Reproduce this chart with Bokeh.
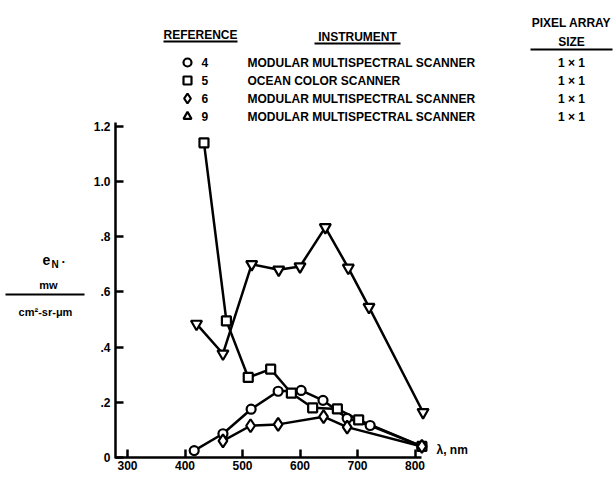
from bokeh.plotting import figure
from bokeh.models import LinearAxis, FixedTicker, Range1d
from bokeh.core.properties import value
from bokeh.embed import file_html
from bokeh.resources import INLINE

# ---------------- data ----------------
ref4_wl = [416, 466, 515, 562, 602, 640, 682, 722, 812]
ref4_val = [0.025, 0.086, 0.175, 0.240, 0.243, 0.207, 0.142, 0.116, 0.040]

ref5_wl = [433, 472, 510, 549, 585, 622, 665, 702, 812]
ref5_val = [1.14, 0.495, 0.290, 0.320, 0.233, 0.180, 0.176, 0.136, 0.040]

ref6_wl = [466, 514, 562, 641, 682, 812]
ref6_val = [0.060, 0.115, 0.120, 0.148, 0.110, 0.040]

ref9_wl = [420, 466, 516, 563, 600, 644, 684, 720, 814]
ref9_val = [0.484, 0.376, 0.700, 0.680, 0.692, 0.834, 0.687, 0.545, 0.164]

x_ticks = [300, 400, 500, 600, 700, 800]
y_ticks = [0, 0.2, 0.4, 0.6, 0.8, 1.0, 1.2]
y_tick_labels = ["0", ".2", ".4", ".6", ".8", "1.0", "1.2"]

legend_refs = ["4", "5", "6", "9"]
legend_instruments = ["MODULAR MULTISPECTRAL SCANNER", "OCEAN COLOR SCANNER",
                      "MODULAR MULTISPECTRAL SCANNER", "MODULAR MULTISPECTRAL SCANNER"]
legend_sizes = ["1 × 1", "1 × 1", "1 × 1", "1 × 1"]
legend_markers = ["circle", "square", "diamond", "triangle"]

# ---------------- layout (picture pixels -> data) ----------------
W, H = 614, 477
ORIGIN = 0
X_REF_PX, X_REF_NM, PX_PER_NM = 127.0, 300.0, 0.575
Y0_PX, PX_PER_UNIT = 457.0, 276.0


def X(px):
    return X_REF_NM + (px - X_REF_PX) / PX_PER_NM


def Y(py):
    return (Y0_PX - py) / PX_PER_UNIT


FONT_NAME = "Liberation Sans"
FONT = value(FONT_NAME)

p = figure(width=W, height=H, output_backend="svg", toolbar_location=None,
           x_axis_location=None, y_axis_location=None, min_border=0,
           x_range=Range1d(X(ORIGIN), X(ORIGIN + W)),
           y_range=Range1d(Y(ORIGIN + H), Y(ORIGIN)))
p.grid.visible = False
p.outline_line_color = None
p.background_fill_color = "white"
p.border_fill_color = "white"

# axes
xax = LinearAxis(ticker=FixedTicker(ticks=x_ticks))
xax.fixed_location = 0
xax.bounds = (X(115), X(421))
xax.major_tick_in = 8
xax.major_tick_out = 0
xax.minor_tick_in = 0
xax.minor_tick_out = 0
xax.axis_line_width = 2.5
xax.major_tick_line_width = 2.5
xax.major_label_text_font = FONT_NAME
xax.major_label_text_font_style = "bold"
xax.major_label_text_font_size = "12px"
xax.major_label_standoff = 3
xax.major_label_text_color = "black"
p.add_layout(xax, "below")

yax = LinearAxis(ticker=FixedTicker(ticks=y_ticks))
yax.fixed_location = X(115)
yax.bounds = (-0.005, 1.215)
yax.major_tick_in = 8
yax.major_tick_out = 0
yax.minor_tick_in = 0
yax.minor_tick_out = 0
yax.axis_line_width = 2.5
yax.major_tick_line_width = 2.5
yax.major_label_overrides = {t: l for t, l in zip(y_ticks, y_tick_labels)}
yax.major_label_text_font = FONT_NAME
yax.major_label_text_font_style = "bold"
yax.major_label_text_font_size = "12px"
yax.major_label_standoff = 5
yax.major_label_text_color = "black"
p.add_layout(yax, "left")

# series
LW = 2.5
series = [(ref4_wl, ref4_val, "circle", 9),
          (ref5_wl, ref5_val, "square", 9),
          (ref6_wl, ref6_val, "diamond", 13),
          (ref9_wl, ref9_val, "inverted_triangle", 11)]
for wl, v, _, _ in series:
    p.line(wl, v, line_color="black", line_width=LW)
for wl, v, m, s in series:
    p.scatter(wl, v, marker=m, size=s, fill_color="white",
              line_color="black", line_width=2.2)


# legend / table header
def txt(px, py, s, size="12px", align="left", style="bold"):
    p.text(x=[X(px)], y=[Y(py)], text=[s], text_font=FONT,
           text_font_style=style, text_font_size=size, text_align=align,
           text_baseline="middle", text_color="black")


def hline(x0, x1, py, w=2):
    p.segment(x0=[X(x0)], y0=[Y(py)], x1=[X(x1)], y1=[Y(py)],
              line_color="black", line_width=w)


txt(571, 22, "PIXEL ARRAY", "12px", "center")
txt(571, 41, "SIZE", "12px", "center")
hline(530, 612, 49)
txt(200, 34, "REFERENCE", "12px", "center")
hline(163, 237, 41)
txt(357, 36, "INSTRUMENT", "12px", "center")
hline(314, 400, 43)

row_y = [62, 80, 98, 116]
legend_sizes_px = [8, 8, 10, 8]
for ry, r, ins, sz, m, ms in zip(row_y, legend_refs, legend_instruments,
                                 legend_sizes, legend_markers, legend_sizes_px):
    p.scatter([X(187)], [Y(ry)], marker=m, size=ms, fill_color="white",
              line_color="black", line_width=2.2)
    txt(201, ry, r)
    txt(247, ry, ins)
    txt(571, ry, sz, align="center")

# y-axis title
txt(42, 259, "e", "14px")
txt(51, 264, "N", "10px")
txt(61, 261, "·", "13px")
txt(48, 284, "mw", "11px", "center")
hline(5, 84, 294)
txt(45, 311, "cm²-sr-μm", "11px", "center")

# x-axis title
txt(436, 449, "λ, nm", "12px")

open("out.html", "w").write(file_html(p, INLINE))
